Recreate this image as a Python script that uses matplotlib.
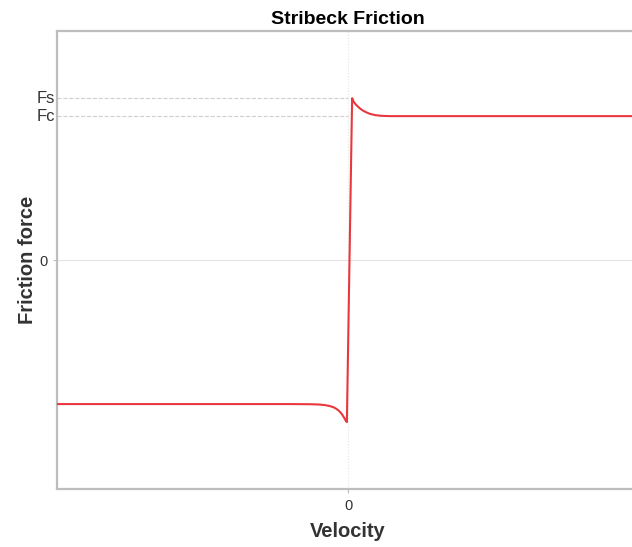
import numpy as np
import matplotlib.pyplot as plt
from matplotlib.transforms import blended_transform_factory

plt.rcParams['font.family'] = ['Liberation Sans', 'DejaVu Sans']

# points (velocity, friction force), Fc = 1
velocity = np.array([-10.0, -2.0, -1.3, -1.0, -0.8, -0.62, -0.5, -0.41, -0.33, -0.27,
                     -0.21, -0.17, -0.12, -0.07, -0.04,
                     0.14, 0.17, 0.20, 0.27, 0.34, 0.41, 0.50, 0.62, 0.75, 0.93,
                     1.15, 1.44, 2.0, 10.0])
force = np.array([-1.0, -1.0, -1.001, -1.003, -1.007, -1.014, -1.022, -1.032, -1.044, -1.056,
                  -1.07, -1.083, -1.10, -1.118, -1.125,
                  1.125, 1.11, 1.098, 1.080, 1.066, 1.053, 1.040, 1.027, 1.016, 1.007,
                  1.002, 1.0, 1.0, 1.0])

Fs = 1.125
Fc = 1.0
level_vals = [Fs, Fc]
level_labels = ['Fs', 'Fc']


def main():
    fig = plt.figure(figsize=(6.32, 5.47), dpi=100)
    ax = fig.add_axes([0.0902, 0.106, 0.921, 0.837])

    ax.axhline(0, color='#e4e4e4', lw=0.8, zorder=0)
    ax.axvline(0, color='#e4e4e4', lw=0.8, ls=':', zorder=0)
    for val, lab in zip(level_vals, level_labels):
        ax.plot([-10, 0], [val, val], color='#cfcfcf', lw=0.8, ls='--', zorder=1)
        trans = blended_transform_factory(ax.transAxes, ax.transData)
        ax.text(-0.003, val, lab, transform=trans, ha='right', va='center',
                fontsize=12, color='#333333')

    ax.plot(velocity, force, color='#e8383d', lw=1.5, zorder=3)

    ax.set_xlim(-10, 10)
    ax.set_ylim(-1.59, 1.59)
    ax.set_xticks([0])
    ax.set_xticklabels(['0'])
    ax.set_yticks([0])
    ax.set_yticklabels(['0'])

    for side in ['left', 'bottom', 'top']:
        ax.spines[side].set_color('#bdbdbd')
        ax.spines[side].set_linewidth(1.6)
    ax.spines['right'].set_visible(False)
    ax.tick_params(colors='#bdbdbd', labelcolor='#333333', labelsize=10.5, length=3, pad=4)

    ax.set_title('Stribeck Friction', fontsize=14, fontweight='bold', pad=5)
    ax.set_xlabel('Velocity', fontsize=14.5, fontweight='bold', color='#333333')
    ax.set_ylabel('Friction force', fontsize=14.5, fontweight='bold', color='#333333')
    ax.xaxis.set_label_coords(0.5, -0.072)
    ax.yaxis.set_label_coords(-0.034, 0.5)

    fig.savefig('out.png', dpi=100)


if __name__ == "__main__":
    main()
